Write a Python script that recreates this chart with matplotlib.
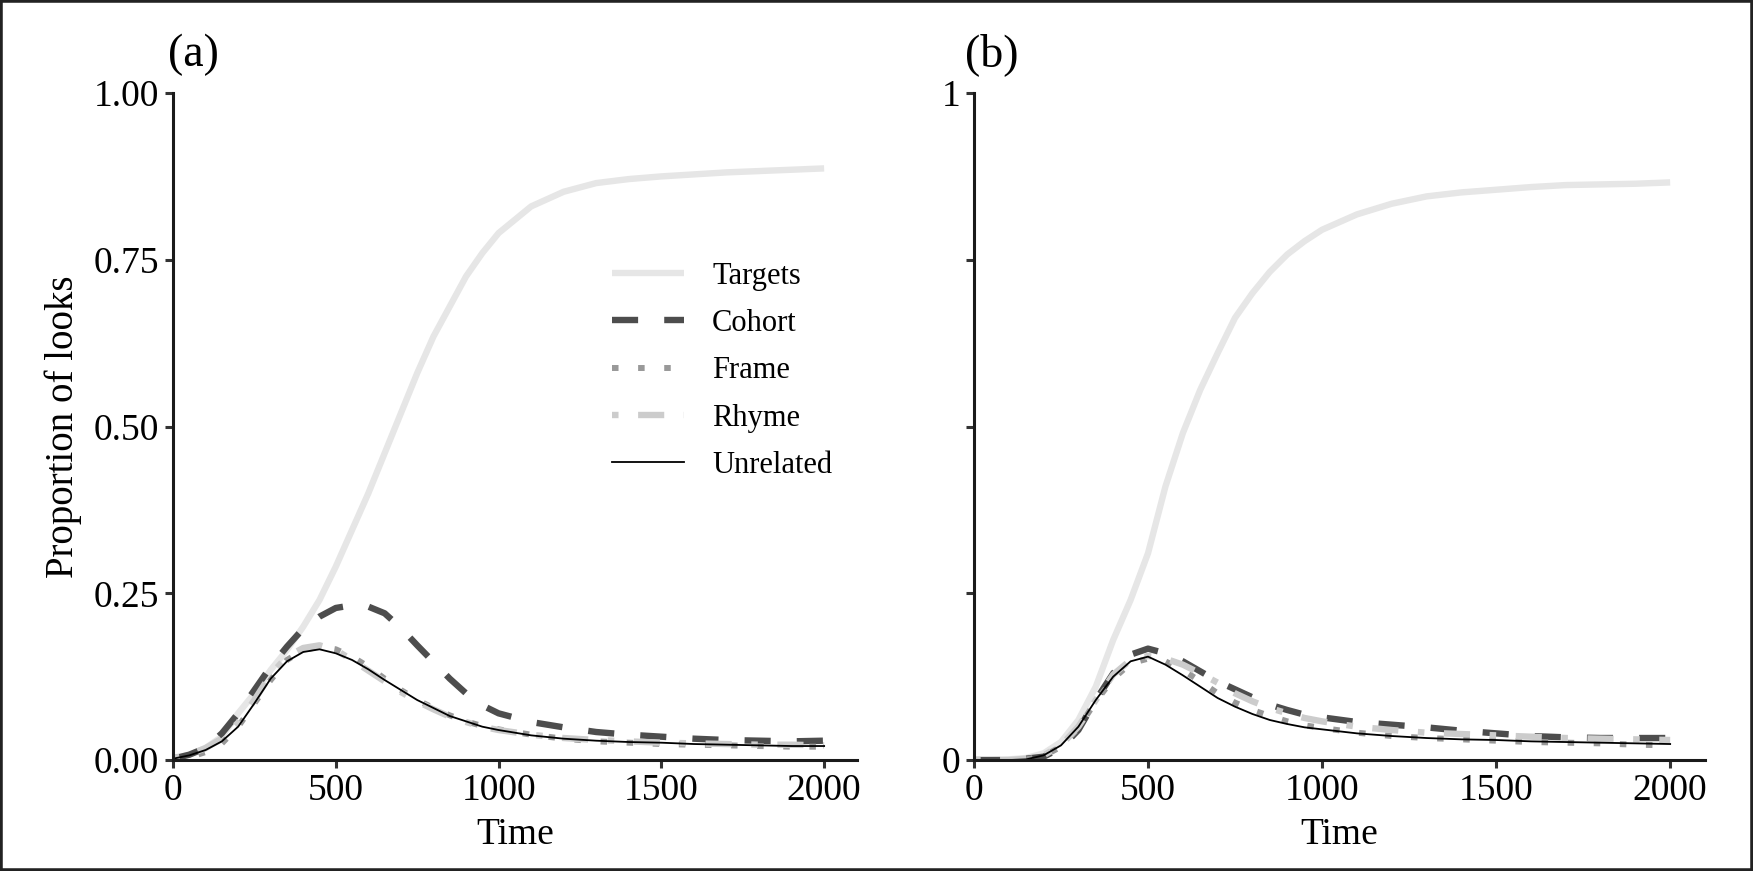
import matplotlib
matplotlib.use("Agg")
import matplotlib.pyplot as plt
from matplotlib.patches import Rectangle

plt.rcParams["font.family"] = ["Liberation Serif", "DejaVu Serif"]
plt.rcParams["lines.scale_dashes"] = False

# time grid (ms)
time = [0, 50, 100, 150, 200, 250, 300, 350, 400, 450, 500, 550, 600, 650, 700, 750,
        800, 850, 900, 950, 1000, 1100, 1200, 1300, 1400, 1500, 1600, 1700, 1800, 1900, 2000]

# panel (a)
targets_a = [0.002, 0.008, 0.018, 0.035, 0.07, 0.10, 0.135, 0.165, 0.20, 0.24, 0.29, 0.345,
             0.40, 0.46, 0.52, 0.58, 0.635, 0.68, 0.725, 0.76, 0.79, 0.83, 0.852, 0.865,
             0.871, 0.875, 0.878, 0.881, 0.883, 0.885, 0.887]
cohort_a = [0.002, 0.008, 0.018, 0.04, 0.07, 0.105, 0.14, 0.17, 0.197, 0.215, 0.228, 0.232,
            0.23, 0.22, 0.198, 0.172, 0.147, 0.122, 0.10, 0.082, 0.07, 0.057, 0.049, 0.042,
            0.038, 0.035, 0.032, 0.03, 0.029, 0.028, 0.029]
frame_a = [0.0, 0.004, 0.012, 0.025, 0.05, 0.085, 0.12, 0.15, 0.165, 0.17, 0.166, 0.155,
           0.14, 0.122, 0.105, 0.09, 0.078, 0.067, 0.058, 0.051, 0.046, 0.038, 0.032, 0.028,
           0.026, 0.024, 0.023, 0.022, 0.021, 0.02, 0.02]
rhyme_a = [0.003, 0.008, 0.018, 0.032, 0.056, 0.09, 0.128, 0.155, 0.168, 0.172, 0.165, 0.15,
           0.134, 0.118, 0.102, 0.088, 0.076, 0.065, 0.057, 0.05, 0.045, 0.038, 0.033, 0.03,
           0.028, 0.026, 0.025, 0.024, 0.023, 0.023, 0.022]
unrelated_a = [0.002, 0.007, 0.015, 0.028, 0.05, 0.085, 0.122, 0.148, 0.162, 0.166, 0.16, 0.15,
               0.136, 0.12, 0.105, 0.09, 0.078, 0.066, 0.058, 0.05, 0.045, 0.037, 0.032, 0.029,
               0.027, 0.026, 0.024, 0.023, 0.022, 0.021, 0.021]

# panel (b)
targets_b = [0.0, 0.0, 0.001, 0.003, 0.01, 0.027, 0.06, 0.11, 0.18, 0.24, 0.31, 0.41,
             0.49, 0.555, 0.61, 0.663, 0.70, 0.732, 0.758, 0.778, 0.795, 0.818, 0.834, 0.845,
             0.851, 0.855, 0.859, 0.862, 0.863, 0.864, 0.866]
cohort_b = [0.0, 0.0, 0.0, 0.002, 0.005, 0.018, 0.045, 0.09, 0.13, 0.158, 0.167, 0.16,
            0.148, 0.133, 0.118, 0.106, 0.094, 0.083, 0.075, 0.068, 0.064, 0.057, 0.053, 0.049,
            0.044, 0.04, 0.036, 0.034, 0.033, 0.033, 0.033]
frame_b = [0.0, 0.0, 0.0, 0.001, 0.006, 0.02, 0.048, 0.088, 0.122, 0.145, 0.152, 0.148,
           0.135, 0.118, 0.10, 0.086, 0.075, 0.066, 0.058, 0.052, 0.048, 0.041, 0.036, 0.033,
           0.031, 0.029, 0.027, 0.026, 0.025, 0.023, 0.022]
rhyme_b = [0.0, 0.0, 0.0, 0.002, 0.007, 0.022, 0.05, 0.09, 0.128, 0.15, 0.156, 0.152,
           0.143, 0.13, 0.116, 0.10, 0.088, 0.078, 0.07, 0.063, 0.058, 0.05, 0.045, 0.041,
           0.039, 0.037, 0.035, 0.033, 0.032, 0.031, 0.03]
unrelated_b = [0.0, 0.0, 0.0, 0.001, 0.007, 0.022, 0.05, 0.09, 0.125, 0.148, 0.155, 0.143,
               0.127, 0.11, 0.093, 0.08, 0.069, 0.06, 0.054, 0.049, 0.046, 0.04, 0.036, 0.033,
               0.031, 0.03, 0.028, 0.027, 0.026, 0.025, 0.024]

x_ticks = [0, 500, 1000, 1500, 2000]
y_ticks = [0, 0.25, 0.5, 0.75, 1.0]
y_labels_a = ["0.00", "0.25", "0.50", "0.75", "1.00"]
y_labels_b = ["0", "", "", "", "1"]

u = 4.7  # dash unit in points
styles = {
    "Targets": dict(color="#e6e6e6", lw=4.6, solid_capstyle="butt"),
    "Cohort": dict(color="#4d4d4d", lw=4.6, dashes=(4 * u, 4 * u), dash_capstyle="butt"),
    "Frame": dict(color="#999999", lw=4.3, dashes=(u, 3 * u), dash_capstyle="butt"),
    "Rhyme": dict(color="#cccccc", lw=4.6, dashes=(u, 3 * u, 4 * u, 3 * u), dash_capstyle="butt"),
    "Unrelated": dict(color="black", lw=1.3),
}

fig = plt.figure(figsize=(17.53, 8.71), dpi=100)
ax_a = fig.add_axes([0.0987, 0.1274, 0.390, 0.7658])
ax_b = fig.add_axes([0.5556, 0.1274, 0.417, 0.7658])

panels = [
    (ax_a, [targets_a, cohort_a, frame_a, rhyme_a, unrelated_a], y_labels_a, "(a)", -0.007),
    (ax_b, [targets_b, cohort_b, frame_b, rhyme_b, unrelated_b], y_labels_b, "(b)", -0.012),
]

for ax, series, ylabs, tag, tag_x in panels:
    for name, vals in zip(styles.keys(), series):
        ax.plot(time, vals, label=name, **styles[name])
    ax.set_xlim(0, 2100)
    ax.set_ylim(0, 1)
    ax.set_xticks(x_ticks)
    ax.set_yticks(y_ticks)
    ax.set_yticklabels(ylabs)
    for s in ["top", "right"]:
        ax.spines[s].set_visible(False)
    for s in ["left", "bottom"]:
        ax.spines[s].set_linewidth(2.2)
        ax.spines[s].set_color("#1a1a1a")
    ax.tick_params(length=6, width=2.2, color="#333333", labelsize=27, pad=4)
    ax.set_xlabel("Time", fontsize=27)
    ax.xaxis.set_label_coords(0.5, -0.086)
    ax.text(tag_x, 1.0255, tag, transform=ax.transAxes, fontsize=33, ha="left", va="bottom")

ax_a.set_ylabel("Proportion of looks", fontsize=28, labelpad=8)

ax_a.legend(loc="upper left", bbox_to_anchor=(0.642, 0.747), frameon=False, fontsize=22,
            handlelength=2.36, handletextpad=0.92, labelspacing=0.6,
            borderpad=0, borderaxespad=0)

fig.patches.append(Rectangle((0, 0), 1, 1, transform=fig.transFigure, fill=False,
                             lw=4, edgecolor="#222222", clip_on=False))

plt.savefig("out.png", dpi=100)
plt.close()
